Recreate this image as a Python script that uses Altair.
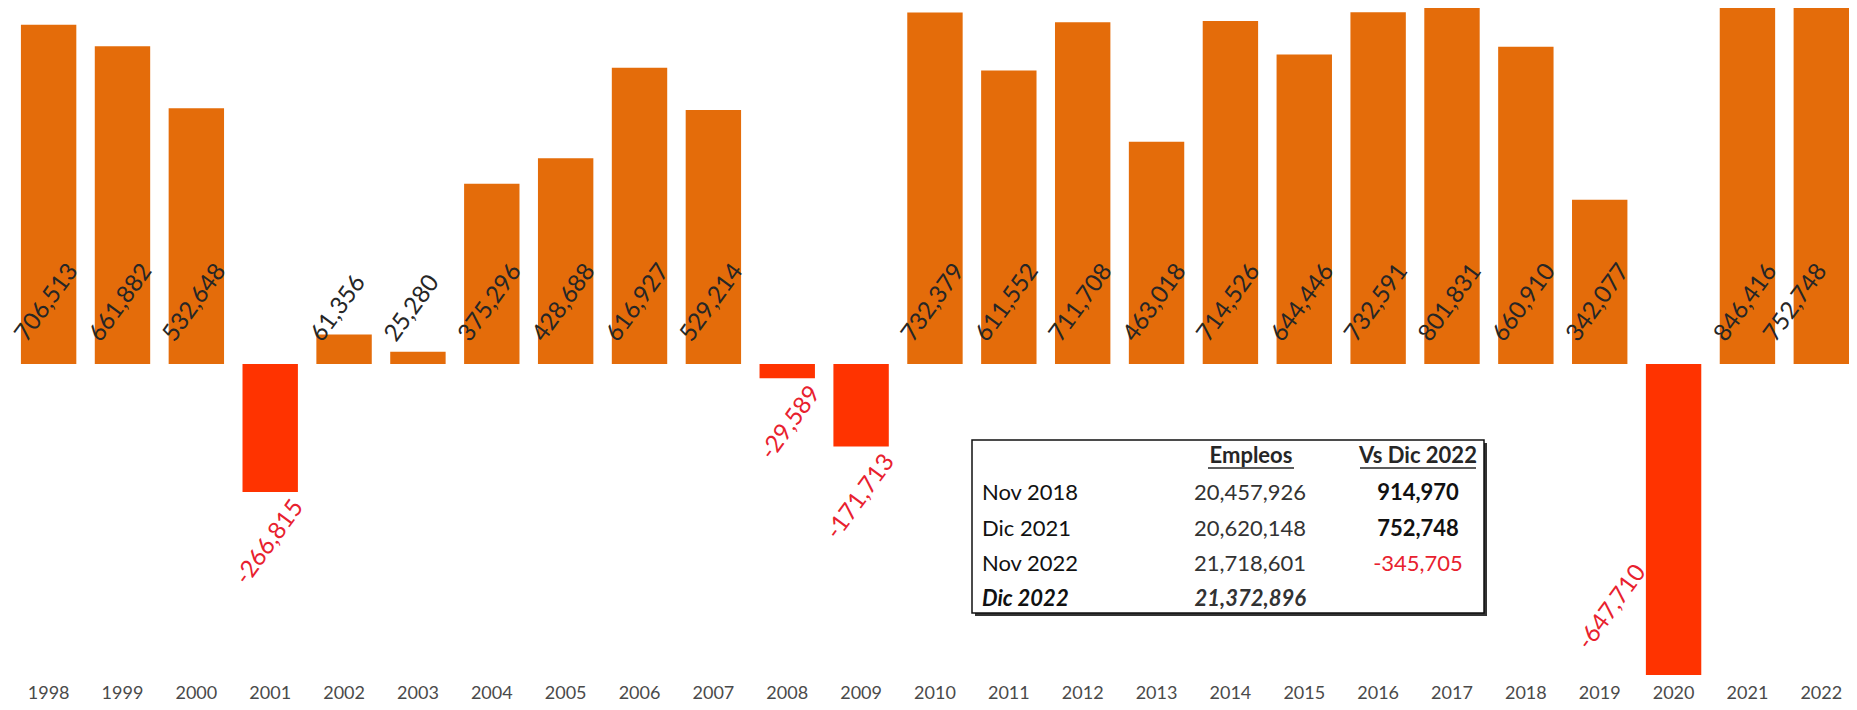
import math
import altair as alt
import pandas as pd

# ---------------- data ----------------
years = ["1998", "1999", "2000", "2001", "2002", "2003", "2004", "2005", "2006",
         "2007", "2008", "2009", "2010", "2011", "2012", "2013", "2014", "2015",
         "2016", "2017", "2018", "2019", "2020", "2021", "2022"]
changes = [706513, 661882, 532648, -266815, 61356, 25280, 375296, 428688, 616927,
           529214, -29589, -171713, 732379, 611552, 711708, 463018, 714526, 644446,
           732591, 801831, 660910, 342077, -647710, 846416, 752748]

headers = ["Empleos", "Vs Dic 2022"]
row_labels = ["Nov 2018", "Dic 2021", "Nov 2022", "Dic 2022"]
row_empleos = ["20,457,926", "20,620,148", "21,718,601", "21,372,896"]
row_vs = ["914,970", "752,748", "-345,705", ""]

# ---------------- style ----------------
ORANGE = "#E46C0A"
RED = "#FF3300"
LABEL_RED = "#E8212E"
DARK = "#262626"
FONT = "Lato"
W, H = 1841, 694
Y_DOMAIN = [-704000, 741500]
ANGLE = 306
LFS = 24


def rot_offset(px, py, angle=ANGLE):
    """convert a screen-space offset into Vega's rotated-frame dx/dy"""
    a = math.radians(angle)
    return (px * math.cos(a) + py * math.sin(a),
            -px * math.sin(a) + py * math.cos(a))


df = pd.DataFrame({"year": years, "value": changes,
                   "label": [f"{v:,}" for v in changes]})

xenc = alt.X("year:N", sort=years,
             scale=alt.Scale(paddingInner=0.25, paddingOuter=0.0875, align=1),
             axis=None)
yscale = alt.Scale(domain=Y_DOMAIN, nice=False, zero=False)

base = alt.Chart(df).transform_calculate(zero="0")

bars = base.mark_bar(clip=True).encode(
    x=xenc,
    y=alt.Y("value:Q", scale=yscale, axis=None),
    y2="zero:Q",
    color=alt.condition("datum.value < 0", alt.value(RED), alt.value(ORANGE)),
)

last_year = years[-1]


def pos_label_layer(filt, px, py):
    dx, dy = rot_offset(px, py)
    return base.transform_filter(filt).mark_text(
        align="left", baseline="alphabetic", angle=ANGLE, fontSize=LFS, font=FONT,
        color=DARK, dx=dx, dy=dy,
    ).encode(x=xenc, y=alt.Y("zero:Q", scale=yscale, axis=None), text="label:N")


pos_labels = pos_label_layer(f"datum.value >= 0 && datum.year != '{last_year}'", -22, -21)
# the last label is pulled left so that it stays inside the chart area
pos_label_last = pos_label_layer(f"datum.value >= 0 && datum.year == '{last_year}'", -46, -21)

ndx, ndy = rot_offset(34, 15)
neg_labels = base.transform_filter("datum.value < 0 && datum.value > -500000").mark_text(
    align="right", baseline="alphabetic", angle=ANGLE, fontSize=LFS, font=FONT,
    color=LABEL_RED, dx=ndx, dy=ndy,
).encode(x=xenc, y=alt.Y("value:Q", scale=yscale, axis=None), text="label:N")

bdx, bdy = rot_offset(-27, -103)
big_neg_label = base.transform_filter("datum.value <= -500000").mark_text(
    align="right", baseline="alphabetic", angle=ANGLE, fontSize=LFS, font=FONT,
    color=LABEL_RED, dx=bdx, dy=bdy,
).encode(x=xenc, y=alt.Y("value:Q", scale=yscale, axis=None), text="label:N")

year_labels = base.mark_text(
    fontSize=18, font=FONT, color="#4a4a4a", baseline="middle", align="center",
).encode(x=xenc, y=alt.value(686), text="year:N")

# ---------------- inset table ----------------
one = pd.DataFrame({"k": [0]})
BOX = dict(l=964, r=1476, t=432, b=605)
shadow = alt.Chart(one).mark_rect(color="#333333").encode(
    x=alt.value(BOX["l"] + 3), x2=alt.value(BOX["r"] + 3),
    y=alt.value(BOX["t"] + 3), y2=alt.value(BOX["b"] + 3))
box = alt.Chart(one).mark_rect(fill="white", stroke="#111111", strokeWidth=1.5).encode(
    x=alt.value(BOX["l"]), x2=alt.value(BOX["r"]),
    y=alt.value(BOX["t"]), y2=alt.value(BOX["b"]))

HEAD_Y = 448
ROW_Y = [485, 521, 556, 591]
COL_LABEL_X = 974
COL_EMP_X = 1298
COL_EMP_HEAD_X = 1243
COL_VS_X = 1410
TFS = 22

table_layers = []
head_df = pd.DataFrame({"h": headers})
head_x = [COL_EMP_HEAD_X, COL_VS_X]
for i in range(len(headers)):
    table_layers.append(
        alt.Chart(head_df.iloc[[i]]).mark_text(
            font=FONT, fontSize=TFS, fontWeight="bold", color=DARK,
            align="center", baseline="middle",
        ).encode(x=alt.value(head_x[i]), y=alt.value(HEAD_Y), text="h:N")
    )
UL = [(1200, 1286), (1352, 1468)]
for (a, b) in UL:
    table_layers.append(
        alt.Chart(one).mark_rule(color=DARK, strokeWidth=1.5).encode(
            x=alt.value(a), x2=alt.value(b), y=alt.value(HEAD_Y + 12)))

tdf = pd.DataFrame({"row": row_labels, "emp": row_empleos, "vs": row_vs})
for i in range(len(row_labels)):
    last = i == len(row_labels) - 1
    sub = tdf.iloc[[i]]
    style = dict(font=FONT, fontSize=TFS, baseline="middle")
    if last:
        style.update(fontWeight="bold", fontStyle="italic")
    table_layers.append(
        alt.Chart(sub).mark_text(align="left", color="#111111", **style).encode(
            x=alt.value(COL_LABEL_X), y=alt.value(ROW_Y[i]), text="row:N"))
    table_layers.append(
        alt.Chart(sub).mark_text(align="right", color="#333333", **style).encode(
            x=alt.value(COL_EMP_X), y=alt.value(ROW_Y[i]), text="emp:N"))
    if row_vs[i]:
        neg = row_vs[i].startswith("-")
        vstyle = dict(font=FONT, fontSize=TFS, baseline="middle",
                      fontWeight="normal" if neg else "bold")
        table_layers.append(
            alt.Chart(sub).mark_text(align="center", color=LABEL_RED if neg else "#111111",
                                     **vstyle).encode(
                x=alt.value(COL_VS_X), y=alt.value(ROW_Y[i]), text="vs:N"))

chart = alt.layer(
    bars, pos_labels, pos_label_last, neg_labels, big_neg_label, year_labels,
    shadow, box, *table_layers,
).properties(
    width=W, height=H, padding=0,
    autosize=alt.AutoSizeParams(type="none"),
).configure_view(stroke=None)

chart.save("out.html", embed_options={"renderer": "svg", "actions": False})
